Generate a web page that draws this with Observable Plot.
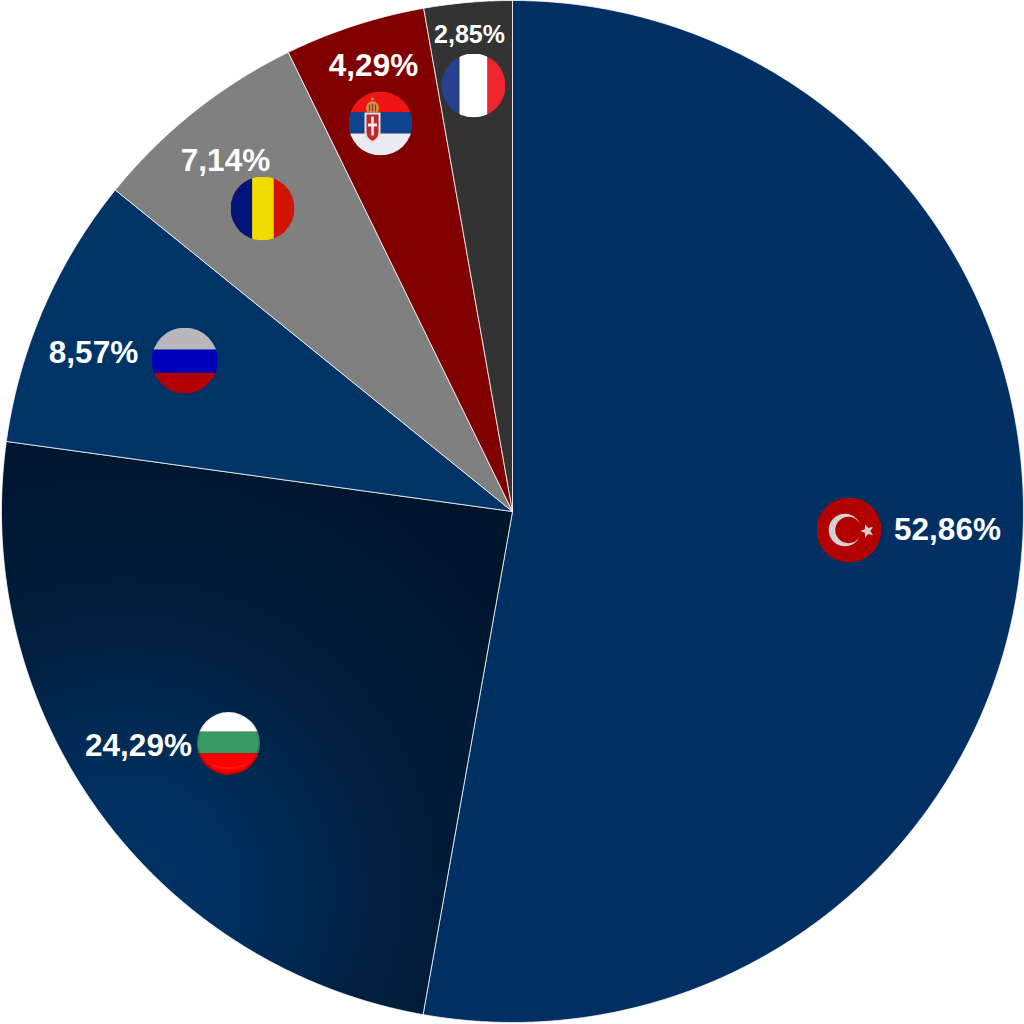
<!DOCTYPE html>
<html>
<head>
<meta charset="utf-8">
<script src="https://cdn.jsdelivr.net/npm/d3@7"></script>
<script src="https://cdn.jsdelivr.net/npm/@observablehq/plot@0.6"></script>
<style>html,body{margin:0;padding:0;background:#fff}svg{display:block}</style>
</head>
<body>
<div id="chart"></div>
<script>
// Data read from the picture. Slice sizes are as measured from the drawn
// boundaries, which sit slightly off the printed percentages.
const countries = ["Turkey", "Bulgaria", "Russia", "Romania", "Serbia", "France"];
const shares = [52.8, 24.39, 8.64, 6.94, 4.45, 2.78];
const labels = ["52,86%", "24,29%", "8,57%", "7,14%", "4,29%", "2,85%"];

// Styling and layout, in chart units
const sliceFill = ["#003063", "url(#bulgariaFade)", "#003366", "#808080", "#800000", "#333333"];
const labelX = [947, 138, 93, 225, 373, 469];
const labelY = [529, 745, 352, 160, 65, 34];
const labelSize = [31.5, 31.5, 31.5, 31.5, 31.5, 25];
const flagX = [848.5, 228, 184.3, 262, 380, 473];
const flagY = [529.5, 743, 360, 208, 123, 85];
const flagR = [32.5, 31.5, 33, 32, 32, 32];

const CX = 512, CY = 511, R = 511;

const svgUri = (s) => "data:image/svg+xml;charset=utf-8," + encodeURIComponent(
  `<svg xmlns="http://www.w3.org/2000/svg" viewBox="0 0 64 64" width="256" height="256">${s}</svg>`);
const hStripes = (a, b, c, y1, y2) =>
  `<rect width="64" height="${y1}" fill="${a}"/><rect y="${y1}" width="64" height="${y2 - y1}" fill="${b}"/><rect y="${y2}" width="64" height="${64 - y2}" fill="${c}"/>`;
const vStripes = (a, b, c, x1, x2) =>
  `<rect width="${x1}" height="64" fill="${a}"/><rect x="${x1}" width="${x2 - x1}" height="64" fill="${b}"/><rect x="${x2}" width="${64 - x2}" height="64" fill="${c}"/>`;

const flagArt = [
  // Turkey
  `<rect width="64" height="64" fill="#b30000"/><circle cx="28" cy="32" r="16" fill="#d2d2d2"/><circle cx="31.5" cy="32" r="13" fill="#b30000"/><polygon fill="#d2d2d2" points="43,33 47.57,31.24 47.84,26.34 50.93,30.15 55.66,28.89 53,33 55.66,37.11 50.93,35.85 47.84,39.66 47.57,34.76"/>`,
  // Bulgaria (glossy button)
  `<defs><radialGradient id="e" cx="50%" cy="48%" r="51%"><stop offset="90%" stop-color="#000" stop-opacity="0"/><stop offset="100%" stop-color="#000" stop-opacity=".3"/></radialGradient></defs>${hStripes("#ffffff", "#3a9a66", "#ff0000", 20, 42)}<rect width="64" height="64" fill="url(#e)"/><path d="M7 50 Q32 66 57 50 Q32 62 7 50Z" fill="#fff" fill-opacity=".1"/>`,
  // Russia
  hStripes("#b9b7bb", "#0000b8", "#b30000", 21.5, 44),
  // Romania
  vStripes("#00147a", "#f0dc00", "#d01400", 21.7, 43.3),
  // Serbia
  `${hStripes("#f01414", "#0f4291", "#ebebf3", 20.7, 42)}
   <path d="M16 21 h16 v20 q0 8 -8 11 q-8 -3 -8 -11z" fill="#e6e1e1"/>
   <path d="M18 23 h12 v17 q0 7 -6 9.5 q-6 -2.5 -6 -9.5z" fill="#c0272d"/>
   <path d="M22.7 25 h2.6 v7 h3.2 v3 h-3.2 v9 h-2.6 v-9 h-3.2 v-3 h3.2z" fill="#efe9e9"/>
   <path d="M18.5 20.7 q-2 -6 1 -9 q2 -2 4.5 -2 q2.5 0 4.5 2 q3 3 1 9z" fill="#c9a13a"/>
   <path d="M21 20 v-7 M24 20 v-8 M27 20 v-7" stroke="#a0243a" stroke-width="1.4"/>
   <circle cx="24" cy="7.5" r="1.5" fill="#c9a13a"/>`,
  // France
  vStripes("#27408f", "#ffffff", "#ef2530", 18, 46)
];

const slices = countries.map((country, i) => {
  const start = d3.sum(shares.slice(0, i)) / d3.sum(shares) * 2 * Math.PI;
  const end = d3.sum(shares.slice(0, i + 1)) / d3.sum(shares) * 2 * Math.PI;
  const steps = Math.ceil((end - start) / (Math.PI / 720));
  const rim = d3.range(steps + 1).map((k) => {
    const a = start + (end - start) * k / steps;
    return {x: CX + R * Math.sin(a), y: CY - R * Math.cos(a)};
  });
  return {country, fill: sliceFill[i], outline: [{x: CX, y: CY}, ...rim, {x: CX, y: CY}]};
});

const labelRows = labels.map((text, i) => ({text, x: labelX[i], y: labelY[i], size: labelSize[i]}));
const flagRows = flagArt.map((art, i) => ({src: svgUri(art), x: flagX[i], y: flagY[i], r: flagR[i]}));

const defs = () => {
  const ns = "http://www.w3.org/2000/svg";
  const d = document.createElementNS(ns, "defs");
  d.innerHTML = `<radialGradient id="bulgariaFade" gradientUnits="userSpaceOnUse" cx="125" cy="890" r="510">
    <stop offset="0" stop-color="#003366"/><stop offset="0.2" stop-color="#003060"/>
    <stop offset="0.36" stop-color="#002850"/><stop offset="0.49" stop-color="#001f3f"/>
    <stop offset="0.66" stop-color="#001b38"/><stop offset="0.96" stop-color="#00152c"/>
    <stop offset="1" stop-color="#00152c"/></radialGradient>`;
  return d;
};

const chart = Plot.plot({
  width: 1024,
  height: 1024,
  margin: 0,
  style: {background: "#ffffff"},
  x: {domain: [0, 1024], range: [0, 1024], axis: null},
  y: {domain: [0, 1024], range: [0, 1024], axis: null},
  marks: [
    defs,
    ...slices.map((s) => Plot.line(s.outline, {
      x: "x", y: "y", fill: s.fill, stroke: "#ffffff", strokeOpacity: 0.85, strokeWidth: 0.9, strokeLinejoin: "round"
    })),
    ...flagRows.map((f) => Plot.image([f], {x: "x", y: "y", src: "src", r: f.r, width: f.r * 2, height: f.r * 2, preserveAspectRatio: "xMidYMid slice"})),
    ...labelRows.map((l) => Plot.text([l], {
      x: "x", y: "y", text: "text", fill: "#ffffff",
      fontFamily: "Liberation Sans", fontWeight: "bold", fontSize: l.size, textAnchor: "middle"
    }))
  ]
});
document.getElementById("chart").append(chart);
</script>
</body>
</html>
